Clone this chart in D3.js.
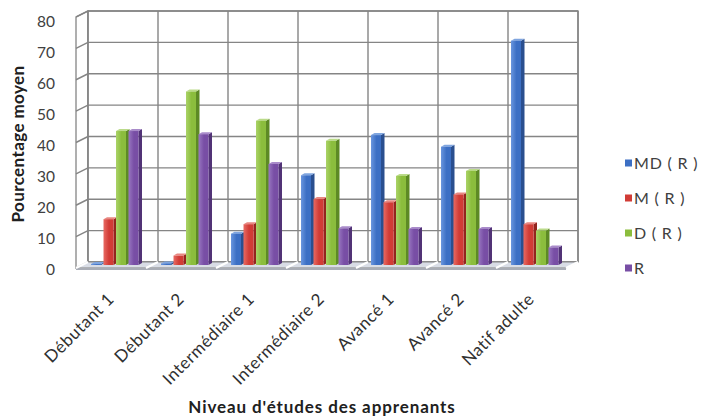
<!DOCTYPE html>
<html>
<head>
<meta charset="utf-8">
<script src="https://cdn.jsdelivr.net/npm/d3@7"></script>
<style>
  html, body { margin: 0; padding: 0; background: #fff; }
  svg { display: block; }
  text { font-family: Lato, "Open Sans", "DejaVu Sans", sans-serif; }
</style>
</head>
<body>
<svg id="chart" width="707" height="417"></svg>
<script>
// Niveaux d'études (catégories de l'axe X)
const categories = ["Débutant 1", "Débutant 2", "Intermédiaire 1", "Intermédiaire 2", "Avancé 1", "Avancé 2", "Natif adulte"];
// Séries
const seriesNames = ["MD ( R )", "M ( R )", "D ( R )", "R"];
const valuesMD = [0.3, 0.5, 10, 28.6, 41.4, 37.7, 71.5];
const valuesM  = [14.6, 3, 13, 21, 20, 22.5, 13];
const valuesD  = [42.7, 55.3, 46, 39.6, 28.4, 30, 11];
const valuesR  = [42.7, 41.7, 32.2, 11.7, 11.5, 11.5, 5.6];
const yTicks = [0, 10, 20, 30, 40, 50, 60, 70, 80];

const seriesValues = [valuesMD, valuesM, valuesD, valuesR];
const palette = [
  { front: "#3c6fc4", light: "#6a96de", side: "#2a4f8f", top: "#7fa5df" },
  { front: "#d13c36", light: "#e86a63", side: "#93251f", top: "#e88781" },
  { front: "#8bbd3d", light: "#abd368", side: "#5d8a25", top: "#bbdb8a" },
  { front: "#784ea5", light: "#9876c0", side: "#513376", top: "#a98bca" }
];

const svg = d3.select("#chart");

// Paroi du fond et profondeur de la vue 3D
const wall = { left: 88, right: 578, base: 262, top: 11 };
const depth = { dx: -12, dy: 6 };

const x = d3.scaleBand().domain(categories).range([wall.left, wall.right]);
const xs = d3.scaleBand().domain(seriesNames).range([0, 50]);
const yBack = d3.scaleLinear().domain([0, 80]).range([wall.base, wall.top]);
// Les barres sont à mi-profondeur
const yBar = v => yBack(v) + depth.dy / 2;
const barShift = depth.dx / 2 + 9;
const barW = 10;
const bd = { dx: 3.5, dy: -2 };

const gridColor = "#858585";

// Dégradés des faces avant
const defs = svg.append("defs");
palette.forEach((p, i) => {
  const g = defs.append("linearGradient").attr("id", "grad" + i)
    .attr("x1", "0%").attr("x2", "100%").attr("y1", "0%").attr("y2", "0%");
  g.append("stop").attr("offset", "0%").attr("stop-color", p.light);
  g.append("stop").attr("offset", "55%").attr("stop-color", p.front);
  g.append("stop").attr("offset", "100%").attr("stop-color", p.front);
});

const poly = pts => "M" + pts.map(p => p.join(",")).join("L") + "Z";

// Paroi gauche
svg.append("path")
  .attr("d", poly([[wall.left + depth.dx, wall.top + depth.dy], [wall.left, wall.top],
                   [wall.left, wall.base], [wall.left + depth.dx, wall.base + depth.dy]]))
  .attr("fill", "#fff").attr("stroke", gridColor).attr("stroke-width", 1.3);

// Paroi du fond
svg.append("rect")
  .attr("x", wall.left).attr("y", wall.top)
  .attr("width", wall.right - wall.left).attr("height", wall.base - wall.top)
  .attr("fill", "#fff").attr("stroke", gridColor).attr("stroke-width", 1.4);

// Quadrillage horizontal (fond + paroi gauche)
const grid = svg.append("g").attr("stroke", gridColor).attr("stroke-width", 1.4).attr("fill", "none");
yTicks.forEach(t => {
  grid.append("line").attr("x1", wall.left).attr("x2", wall.right)
    .attr("y1", yBack(t)).attr("y2", yBack(t));
  grid.append("line").attr("x1", wall.left + depth.dx).attr("x2", wall.left)
    .attr("y1", yBack(t) + depth.dy).attr("y2", yBack(t));
});
// Quadrillage vertical aux limites des catégories
const bounds = categories.map(c => x(c)).concat([wall.right]);
bounds.forEach(b => {
  grid.append("line").attr("x1", b).attr("x2", b).attr("y1", wall.top).attr("y2", wall.base);
});

// Plancher
svg.append("path")
  .attr("d", poly([[wall.left, wall.base], [wall.right, wall.base],
                   [wall.right + depth.dx, wall.base + depth.dy], [wall.left + depth.dx, wall.base + depth.dy]]))
  .attr("fill", "#d9dde6").attr("stroke", "#858585").attr("stroke-width", 1);
svg.append("path")
  .attr("d", poly([[wall.left + depth.dx, wall.base + depth.dy], [wall.right + depth.dx, wall.base + depth.dy],
                   [wall.right + depth.dx, wall.base + depth.dy + 2], [wall.left + depth.dx, wall.base + depth.dy + 2]]))
  .attr("fill", "#a9adb6").attr("stroke", "none");
bounds.forEach(b => {
  svg.append("line").attr("x1", b).attr("x2", b + depth.dx)
    .attr("y1", wall.base).attr("y2", wall.base + depth.dy)
    .attr("stroke", "#fff").attr("stroke-width", 2);
});

// Barres 3D
const bars = svg.append("g");
categories.forEach((c, ci) => {
  seriesNames.forEach((s, si) => {
    const v = seriesValues[si][ci];
    const p = palette[si];
    const x0 = x(c) + barShift + xs(s);
    const x1 = x0 + barW;
    const yb = yBar(0), yt = yBar(v);
    const g = bars.append("g");
    // face latérale
    g.append("path").attr("d", poly([[x1, yt], [x1 + bd.dx, yt + bd.dy], [x1 + bd.dx, yb + bd.dy], [x1, yb]]))
      .attr("fill", p.side);
    // dessus
    g.append("path").attr("d", poly([[x0, yt], [x0 + bd.dx, yt + bd.dy], [x1 + bd.dx, yt + bd.dy], [x1, yt]]))
      .attr("fill", p.top);
    // face avant
    g.append("rect").attr("x", x0).attr("y", yt).attr("width", barW).attr("height", Math.max(0, yb - yt))
      .attr("fill", `url(#grad${si})`);
  });
});

// Axe Y (graduations à l'avant)
const yLab = d3.scaleLinear().domain([0, 80]).range([270, 21.5]);
const yAxis = svg.append("g").attr("transform", "translate(57,0)")
  .call(d3.axisLeft(yLab).tickValues(yTicks).tickSize(0).tickPadding(2));
yAxis.select(".domain").remove();
yAxis.selectAll("text").attr("font-size", 15.5).attr("fill", "#404040")
  .style("font-family", "Lato, 'Open Sans', sans-serif");

// Étiquettes des catégories
svg.append("g").selectAll("text").data(categories).join("text")
  .attr("transform", d => `translate(${x(d) + x.bandwidth() / 2 + depth.dx / 2 - 6},296) rotate(-45)`)
  .attr("text-anchor", "end").attr("dy", "0.35em")
  .attr("font-size", 17).attr("letter-spacing", 0.5).attr("fill", "#303030")
  .text(d => d);

// Titres des axes
svg.append("text").attr("x", 322).attr("y", 413).attr("text-anchor", "middle")
  .attr("font-size", 17).attr("font-weight", "bold").attr("fill", "#202020")
  .attr("letter-spacing", 0.9)
  .text("Niveau d'études des apprenants");
svg.append("text").attr("transform", "translate(18,144) rotate(-90)").attr("text-anchor", "middle")
  .attr("dy", "0.35em")
  .attr("font-size", 17).attr("font-weight", "bold").attr("fill", "#202020")
  .attr("letter-spacing", 0.4)
  .text("Pourcentage moyen");

// Légende
const legendY = d3.scalePoint().domain(seriesNames).range([163, 268]);
const legend = svg.append("g").selectAll("g").data(seriesNames).join("g")
  .attr("transform", d => `translate(625,${legendY(d)})`);
legend.append("rect").attr("x", 0).attr("y", -3.5).attr("width", 7).attr("height", 7)
  .attr("fill", (d, i) => palette[i].front);
legend.append("text").attr("x", 9).attr("dy", "0.36em")
  .attr("font-size", 16).attr("fill", "#404040").attr("letter-spacing", 0.8)
  .text(d => d);
</script>
</body>
</html>
